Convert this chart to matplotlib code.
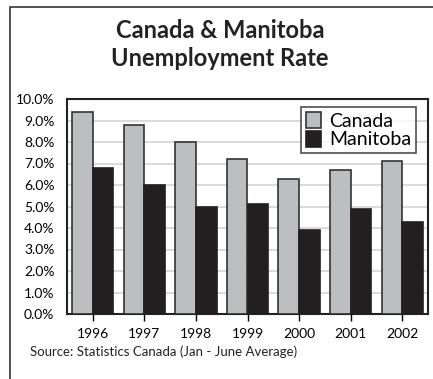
import numpy as np
import matplotlib.pyplot as plt
from matplotlib.patches import Rectangle

plt.rcParams['font.family'] = ['Lato', 'DejaVu Sans']

years = ["1996", "1997", "1998", "1999", "2000", "2001", "2002"]
canada = [9.4, 8.8, 8.0, 7.2, 6.3, 6.7, 7.1]
manitoba = [6.8, 6.0, 5.0, 5.1, 3.9, 4.9, 4.3]
yticks = np.arange(0, 10.5, 1.0)

fig = plt.figure(figsize=(4.33, 3.79), dpi=100)

# outer frame
fig.patches.append(Rectangle((10/433, -0.1), 1.2, 1 - 7/379 + 0.1, transform=fig.transFigure,
                             fill=False, edgecolor="#333333", linewidth=1.2))

ax = fig.add_axes([67/433, 65/379, 361/433, 215/379])

x = np.arange(len(years))
w = 0.4
ax.bar(x - w/2, canada, width=w, color="#bcbec0", edgecolor="#333333", linewidth=1.2,
       label="Canada", zorder=3)
ax.bar(x + w/2, manitoba, width=w, color="#231f20", edgecolor="#231f20", linewidth=1.2,
       label="Manitoba", zorder=3)

ax.set_xlim(-0.5, len(years) - 0.5)
ax.set_ylim(0, 10)
ax.set_yticks(yticks)
ax.set_yticklabels(["%.1f%%" % v for v in yticks], fontsize=10)
ax.set_xticks(x)
ax.set_xticklabels(years, fontsize=10)
ax.tick_params(axis="y", length=0, pad=9)
ax.tick_params(axis="x", length=5, width=1, direction="out", pad=5)
ax.yaxis.grid(True, color="#d4d4d4", linewidth=1.2, zorder=0)
ax.set_axisbelow(True)
for s in ax.spines.values():
    s.set_linewidth(1.5)
    s.set_color("#222222")

leg = ax.legend(loc="upper right", fontsize=14, frameon=True, fancybox=False,
                edgecolor="#222222", handlelength=0.8, handleheight=0.9,
                handletextpad=0.4, borderpad=0.25, labelspacing=0.05,
                borderaxespad=0, bbox_to_anchor=(0.967, 0.963))
leg.get_frame().set_linewidth(1.2)

fig.text(220/433, 1 - 30/379, "Canada & Manitoba", ha="center", va="center",
         fontsize=17, fontweight="bold", color="#222222")
fig.text(220/433, 1 - 59/379, "Unemployment Rate", ha="center", va="center",
         fontsize=17, fontweight="bold", color="#222222")
fig.text(30/433, 1 - 352/379, "Source: Statistics Canada (Jan - June Average)",
         ha="left", va="center", fontsize=9.5, color="#222222")

fig.savefig("out.png", dpi=100)
